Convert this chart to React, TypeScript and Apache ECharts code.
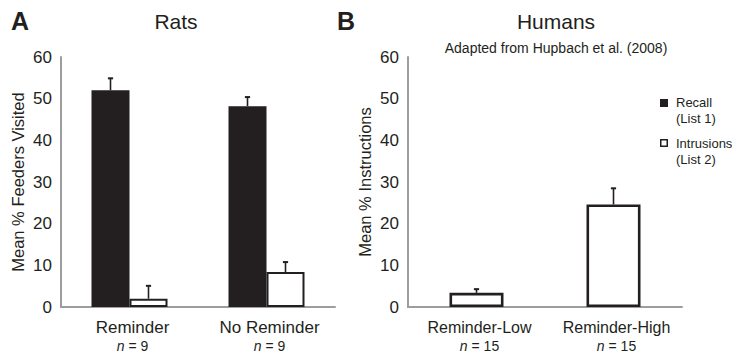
import React, { useEffect, useRef } from "react";
import * as echarts from "echarts";

const FONT = '"Liberation Sans", Arial, Helvetica, sans-serif';
const INK = "#231f20";
const AXIS_GRAY = "#9d9d9d";

// Panel A – Rats
const ratCategories = ["Reminder", "No Reminder"];
const ratN = [9, 9];
const ratRecall = [52.0, 48.2];
const ratRecallErr = [3.0, 2.3];
const ratIntrusions = [2.0, 8.4];
const ratIntrusionsErr = [3.2, 2.5];

// Panel B – Humans
const humanCategories = ["Reminder-Low", "Reminder-High"];
const humanN = [15, 15];
const humanIntrusions = [3.4, 24.6];
const humanIntrusionsErr = [1.0, 4.0];

const yTicks = { min: 0, max: 60, interval: 10 };

const BAR_A = 38;
const BAR_B = 54;

function errSeries(
  axisIndex: number,
  values: number[],
  errs: number[],
  offset: number
) {
  return {
    type: "custom",
    xAxisIndex: axisIndex,
    yAxisIndex: axisIndex,
    z: 5,
    silent: true,
    data: values.map((v, i) => [i, v, errs[i]]),
    renderItem: (params: any, api: any) => {
      const idx = api.value(0);
      const v = api.value(1);
      const e = api.value(2);
      const p0 = api.coord([idx, v]);
      const p1 = api.coord([idx, v + e]);
      const x = p0[0] + offset;
      return {
        type: "group",
        children: [
          {
            type: "line",
            shape: { x1: x, y1: p0[1], x2: x, y2: p1[1] },
            style: { stroke: INK, lineWidth: 1.6 },
          },
          {
            type: "line",
            shape: { x1: x - 2.6, y1: p1[1] + 0.5, x2: x + 2.6, y2: p1[1] + 0.5 },
            style: { stroke: INK, lineWidth: 2 },
          },
        ],
      };
    },
  };
}

function xAxisFor(gridIndex: number, cats: string[], ns: number[], mainSize: number) {
  return {
    type: "category",
    gridIndex,
    data: cats,
    axisLine: { lineStyle: { color: AXIS_GRAY, width: 2 } },
    axisTick: { show: false },
    axisLabel: {
      interval: 0,
      margin: 10,
      padding: [0, 0, 0, 6],
      formatter: (value: string, index: number) =>
        `{main|${value}}\n{ni|n}{nn| = ${ns[index]}}`,
      rich: {
        main: { fontFamily: FONT, fontSize: mainSize, color: INK, lineHeight: 20 },
        ni: { fontFamily: FONT, fontSize: 14, fontStyle: "italic", color: INK, lineHeight: 17 },
        nn: { fontFamily: FONT, fontSize: 14, color: INK, lineHeight: 17 },
      },
    },
  };
}

function yAxisFor(gridIndex: number, name: string) {
  return {
    type: "value",
    gridIndex,
    ...yTicks,
    name,
    nameLocation: "middle",
    nameGap: 35,
    nameTextStyle: { fontFamily: FONT, fontSize: 16.5, color: INK },
    axisLine: { show: true, lineStyle: { color: AXIS_GRAY, width: 2 } },
    axisTick: { show: false },
    splitLine: { show: false },
    axisLabel: { fontFamily: FONT, fontSize: 17, color: INK, margin: 9 },
  };
}

export default function App() {
  const ref = useRef<HTMLDivElement>(null);

  useEffect(() => {
    if (!ref.current) return;
    const chart = echarts.init(ref.current, undefined, { renderer: "svg" });
    chart.setOption({
      animation: false,
      backgroundColor: "#ffffff",
      textStyle: { fontFamily: FONT },
      grid: [
        { left: 61, top: 57, width: 274, height: 250 },
        { left: 408, top: 57, width: 274, height: 250 },
      ],
      xAxis: [
        xAxisFor(0, ratCategories, ratN, 17),
        xAxisFor(1, humanCategories, humanN, 16),
      ],
      yAxis: [
        yAxisFor(0, "Mean % Feeders Visited"),
        yAxisFor(1, "Mean % Instructions"),
      ],
      series: [
        {
          name: "Recall",
          type: "bar",
          xAxisIndex: 0,
          yAxisIndex: 0,
          barWidth: BAR_A,
          barGap: "0%",
          data: ratRecall,
          itemStyle: { color: INK },
        },
        {
          name: "Intrusions",
          type: "bar",
          xAxisIndex: 0,
          yAxisIndex: 0,
          barWidth: BAR_A,
          barGap: "0%",
          data: ratIntrusions,
          itemStyle: { color: "#ffffff", borderColor: INK, borderWidth: 2 },
        },
        errSeries(0, ratRecall, ratRecallErr, -BAR_A / 2),
        errSeries(0, ratIntrusions, ratIntrusionsErr, BAR_A / 2),
        {
          name: "Intrusions",
          type: "bar",
          xAxisIndex: 1,
          yAxisIndex: 1,
          barWidth: BAR_B,
          data: humanIntrusions,
          itemStyle: { color: "#ffffff", borderColor: INK, borderWidth: 2.6 },
        },
        errSeries(1, humanIntrusions, humanIntrusionsErr, 0),
      ],
      graphic: [
        {
          type: "text",
          left: 11,
          top: 8,
          style: { text: "A", fontFamily: FONT, fontSize: 25, fontWeight: "bold", fill: INK },
        },
        {
          type: "text",
          left: 337,
          top: 8,
          style: { text: "B", fontFamily: FONT, fontSize: 25, fontWeight: "bold", fill: INK },
        },
        {
          type: "text",
          x: 176,
          y: 21,
          style: { text: "Rats", fontFamily: FONT, fontSize: 21, fill: INK, align: "center", verticalAlign: "middle" },
        },
        {
          type: "text",
          x: 556,
          y: 21,
          style: { text: "Humans", fontFamily: FONT, fontSize: 21, fill: INK, align: "center", verticalAlign: "middle" },
        },
        {
          type: "text",
          x: 556,
          y: 48,
          style: {
            text: "Adapted from Hupbach et al. (2008)",
            fontFamily: FONT,
            fontSize: 14,
            fill: INK,
            align: "center",
            verticalAlign: "middle",
          },
        },
        {
          type: "rect",
          shape: { x: 660, y: 99, width: 8, height: 8 },
          style: { fill: INK },
        },
        {
          type: "text",
          x: 676,
          y: 94,
          style: { text: "Recall\n(List 1)", fontFamily: FONT, fontSize: 13, fill: INK, lineHeight: 16 },
        },
        {
          type: "rect",
          shape: { x: 660.75, y: 139.75, width: 6.5, height: 6.5 },
          style: { fill: "#ffffff", stroke: INK, lineWidth: 1.5 },
        },
        {
          type: "text",
          x: 676,
          y: 135,
          style: { text: "Intrusions\n(List 2)", fontFamily: FONT, fontSize: 13, fill: INK, lineHeight: 16 },
        },
      ],
    });
    return () => chart.dispose();
  }, []);

  return (
    <div
      ref={ref}
      style={{ position: "fixed", left: 0, top: 0, width: 734, height: 356 }}
    />
  );
}
